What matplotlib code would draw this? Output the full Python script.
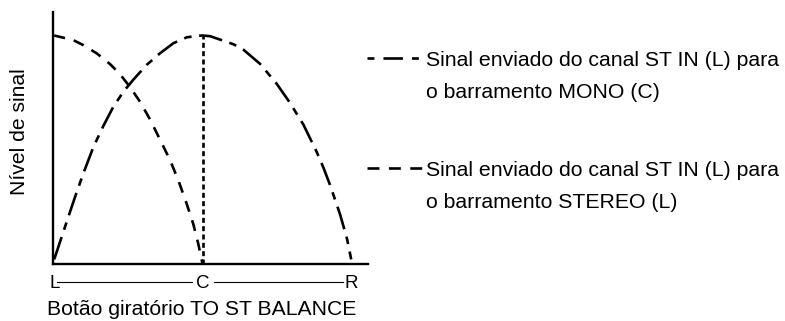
import matplotlib
matplotlib.use("Agg")
import matplotlib.pyplot as plt
import matplotlib.transforms as mtransforms

plt.rcParams['font.family'] = ['Liberation Sans', 'DejaVu Sans']
plt.rcParams['lines.scale_dashes'] = False

# Knob position: 0 = L, 0.5 = C, 1 = R ; level normalized 0..1
mono_x = [0.0, 0.036, 0.07, 0.098, 0.132, 0.165, 0.199, 0.233, 0.266, 0.311, 0.356, 0.401,
          0.446, 0.485, 0.5,
          0.525, 0.603, 0.637, 0.693, 0.749, 0.794, 0.839, 0.884, 0.907, 0.929, 0.963, 0.986, 1.0]
mono_y = [0.02, 0.161, 0.293, 0.396, 0.512, 0.603, 0.688, 0.754, 0.806, 0.871, 0.922, 0.966,
          0.992, 0.999, 1.0,
          0.997, 0.962, 0.938, 0.876, 0.789, 0.705, 0.61, 0.49, 0.42, 0.345, 0.215, 0.11, 0.02]

stereo_x = [0.0, 0.064, 0.098, 0.143, 0.188, 0.222, 0.255, 0.289, 0.323, 0.356, 0.39, 0.418,
            0.446, 0.468, 0.485, 0.497, 0.5]
stereo_y = [1.0, 0.98, 0.958, 0.922, 0.875, 0.83, 0.775, 0.71, 0.632, 0.545, 0.455, 0.366,
            0.264, 0.176, 0.089, 0.015, 0.0]

tick_pos = [0.0, 0.5, 1.0]
tick_labels = ["L", "C", "R"]

legend_mono = ["Sinal enviado do canal ST IN (L) para", "o barramento MONO (C)"]
legend_stereo = ["Sinal enviado do canal ST IN (L) para", "o barramento STEREO (L)"]
xlabel = "Botão giratório TO ST BALANCE"
ylabel = "Nível de sinal"

W, H = 785, 321
fig = plt.figure(figsize=(W / 100, H / 100), dpi=100)
ax_l, ax_b, ax_r, ax_t = 52.7, 264.0, 368.3, 11.7
ax = fig.add_axes([ax_l / W, 1 - ax_b / H, (ax_r - ax_l) / W, (ax_b - ax_t) / H])

def axfx(px):
    return (px - ax_l) / (ax_r - ax_l)

def axfy(py):
    return (ax_b - py) / (ax_b - ax_t)

lw = 1.9
mono_dash = (0, (17, 5.5, 5.5, 5.5))
stereo_dash = (0, (8, 6.5))
dot_dash = (0, (3.6, 2.4))

ax.plot(mono_x, mono_y, color='black', lw=lw, linestyle=mono_dash)
ax.plot(stereo_x, stereo_y, color='black', lw=lw, linestyle=stereo_dash)
ax.vlines(tick_pos[1], 0, max(mono_y), colors='black', lw=lw, linestyles=[dot_dash])

# x: L at px 54.2, R at px 351.2 ; y: 0 at px 264, 1 at px 35.5
ax.set_xlim((ax_l - 54.2) / 297.0, (ax_r - 54.2) / 297.0)
ax.set_ylim(0, (ax_b - ax_t) / (ax_b - 35.5))
for s in ['top', 'right']:
    ax.spines[s].set_visible(False)
for s in ['left', 'bottom']:
    ax.spines[s].set_linewidth(1.7)
ax.set_yticks([])
ax.set_xticks(tick_pos)
ax.set_xticklabels(tick_labels, fontsize=13.5)
ax.tick_params(axis='x', length=0, pad=8)
ax.set_xlabel(xlabel, fontsize=15.2)
ax.xaxis.label.set_va('baseline')
ax.xaxis.set_label_coords(axfx(201.7), axfy(315))
ax.set_ylabel(ylabel, fontsize=15.2)
ax.yaxis.label.set_va('center')
ax.yaxis.set_label_coords(axfx(20), axfy(132))

# connecting lines between L - C - R
trans = mtransforms.blended_transform_factory(ax.transData, ax.transAxes)
yl = axfy(282)
ax.plot([0.008, 0.464], [yl, yl], color='black', lw=0.8, transform=trans, clip_on=False)
ax.plot([0.537, 0.973], [yl, yl], color='black', lw=0.8, transform=trans, clip_on=False)

# legend on the right (figure pixel coordinates)
def fy(py):
    return 1 - py / H

fig.lines.append(plt.Line2D([367 / W, 422 / W], [fy(58), fy(58)], color='black', lw=lw,
                            linestyle=(0, (5, 6.5, 14, 6.5, 5, 30)), transform=fig.transFigure))
fig.lines.append(plt.Line2D([367 / W, 422 / W], [fy(168), fy(168)], color='black', lw=lw,
                            linestyle=(0, (8.6, 6.8)), transform=fig.transFigure))
for i, line in enumerate(legend_mono):
    fig.text(426 / W, fy(65.5 + 32 * i), line, fontsize=15.3, va='baseline', ha='left',
             transform=fig.transFigure)
for i, line in enumerate(legend_stereo):
    fig.text(426 / W, fy(176 + 32 * i), line, fontsize=15.3, va='baseline', ha='left',
             transform=fig.transFigure)

fig.savefig("out.png", dpi=100)
